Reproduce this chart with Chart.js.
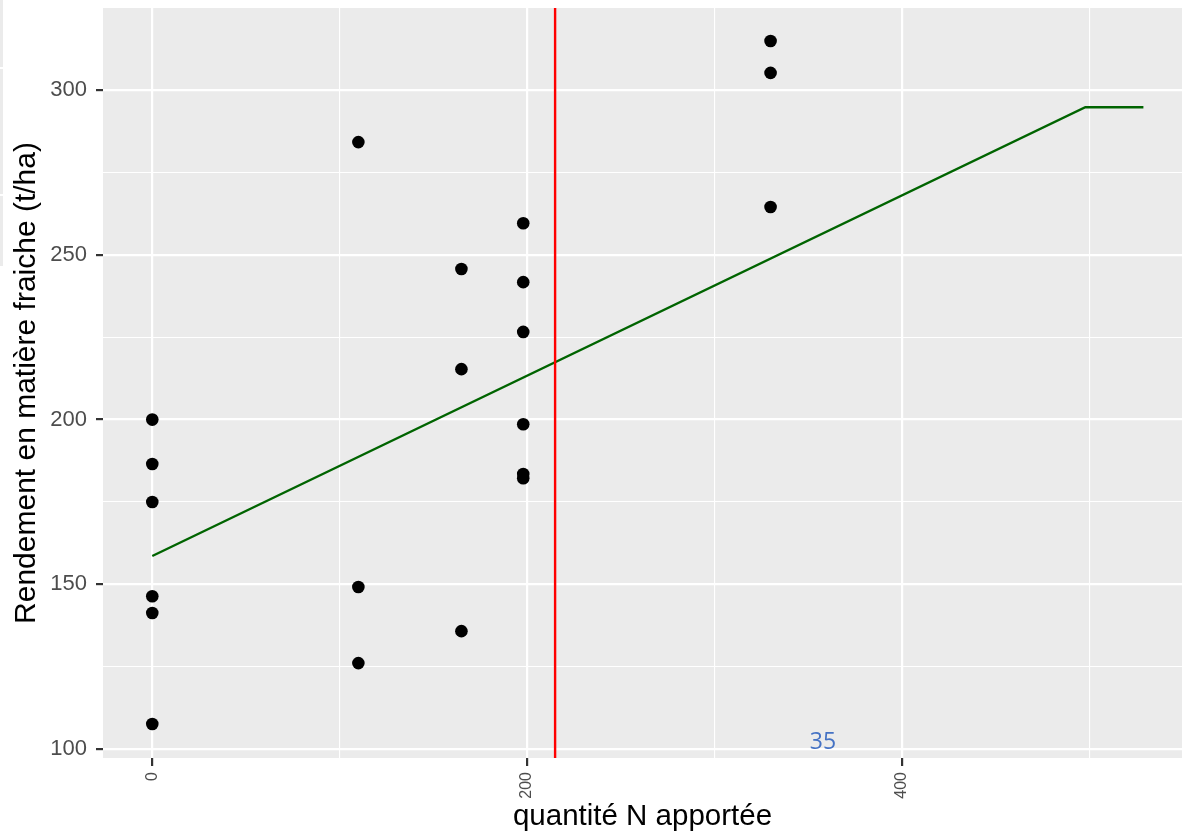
<!DOCTYPE html>
<html>
<head>
<meta charset="utf-8">
<script src="https://cdn.jsdelivr.net/npm/chart.js@4.4.1/dist/chart.umd.min.js"></script>
<style>
  html, body { margin: 0; padding: 0; background: #ffffff; }
  canvas { display: block; }
</style>
</head>
<body>
<canvas id="c" width="1196" height="837"></canvas>
<script>
// Nitrogen rate (kg N/ha) and fresh-matter yield (t/ha) for each plot
const doseN = [0, 0, 0, 0, 0, 0,
               110, 110, 110,
               165, 165, 165,
               198, 198, 198, 198, 198, 198,
               330, 330, 330];
const rendement = [200.0, 186.5, 175.0, 146.4, 141.3, 107.6,
                   284.2, 149.2, 126.1,
                   245.7, 215.3, 135.8,
                   259.6, 241.7, 226.6, 198.6, 183.5, 182.2,
                   314.9, 305.2, 264.5];

// Linear-plateau response curve
const modeleX = [0, 498, 529];
const modeleY = [158.6, 294.8, 294.8];

// Optimal dose marker
const seuilN = 215;

// Axis ticks (all grid lines) and labelled ticks
const xTicks = [0, 100, 200, 300, 400, 500];
const xLabels = [0, 200, 400];
const yTicks = [100, 125, 150, 175, 200, 225, 250, 275, 300];
const yLabels = [100, 150, 200, 250, 300];

const xRange = [-26.3, 549.6];
const yRange = [97.3, 324.9];

const noteTexte = '35';
const noteX = 358;
const noteY = 102;

const PANEL = '#EBEBEB';

const panelPlugin = {
  id: 'panel',
  beforeDraw(chart) {
    const { ctx, chartArea: a, width, height } = chart;
    ctx.save();
    ctx.fillStyle = '#ffffff';
    ctx.fillRect(0, 0, width, height);
    // thin strip on the far left edge
    ctx.fillStyle = PANEL;
    ctx.fillRect(0, 0, 3, 266);
    ctx.fillStyle = '#ffffff';
    ctx.fillRect(0, 67, 3, 2);
    ctx.fillRect(0, 194, 3, 2);
    // plotting panel
    ctx.fillStyle = PANEL;
    ctx.fillRect(a.left, a.top, a.right - a.left, a.bottom - a.top);
    ctx.restore();
  },
  afterDraw(chart) {
    const { ctx, scales } = chart;
    ctx.save();
    ctx.fillStyle = '#4472C4';
    ctx.font = '23px "Open Sans", sans-serif';
    ctx.textAlign = 'center';
    ctx.textBaseline = 'middle';
    ctx.fillText(noteTexte, scales.x.getPixelForValue(noteX), scales.y.getPixelForValue(noteY));
    ctx.restore();
  }
};

const points = doseN.map((x, i) => ({ x, y: rendement[i] }));
const courbe = modeleX.map((x, i) => ({ x, y: modeleY[i] }));
const seuil = [{ x: seuilN, y: yRange[0] }, { x: seuilN, y: yRange[1] }];

new Chart(document.getElementById('c'), {
  type: 'scatter',
  data: {
    datasets: [
      {
        type: 'line',
        data: seuil,
        borderColor: '#FF0000',
        borderWidth: 2.4,
        pointRadius: 0,
        fill: false
      },
      {
        type: 'line',
        data: courbe,
        borderColor: '#006400',
        borderWidth: 2.4,
        pointRadius: 0,
        tension: 0,
        fill: false
      },
      {
        data: points,
        backgroundColor: '#000000',
        borderColor: '#000000',
        borderWidth: 0,
        pointRadius: 6.3
      }
    ]
  },
  options: {
    responsive: false,
    animation: false,
    events: [],
    layout: { padding: { left: 0, top: 8, right: 14, bottom: 0 } },
    plugins: { legend: { display: false }, tooltip: { enabled: false } },
    scales: {
      x: {
        type: 'linear',
        min: xRange[0],
        max: xRange[1],
        afterBuildTicks(scale) { scale.ticks = xTicks.map(v => ({ value: v })); },
        afterFit(scale) { scale.height = 79; scale.paddingLeft = 0; scale.paddingRight = 0; },
        border: { display: false },
        grid: {
          color: '#FFFFFF',
          lineWidth: c => (xLabels.includes(c.tick && c.tick.value) ? 2.2 : 1.1),
          drawTicks: true,
          tickLength: 8,
          tickWidth: 2.2,
          tickColor: c => (xLabels.includes(c.tick && c.tick.value) ? '#333333' : 'rgba(0,0,0,0)')
        },
        ticks: {
          autoSkip: false,
          minRotation: 90,
          maxRotation: 90,
          padding: 6,
          color: '#4D4D4D',
          font: { family: '"Liberation Sans", Arial, sans-serif', size: 16 },
          callback: v => (xLabels.includes(v) ? String(v) : '')
        },
        title: {
          display: true,
          text: 'quantité N apportée',
          color: '#000000',
          font: { family: '"Liberation Sans", Arial, sans-serif', size: 29.5 },
          padding: { top: 0, bottom: 2 }
        }
      },
      y: {
        type: 'linear',
        min: yRange[0],
        max: yRange[1],
        afterBuildTicks(scale) { scale.ticks = yTicks.map(v => ({ value: v })); },
        afterFit(scale) { scale.width = 103; scale.paddingTop = 0; scale.paddingBottom = 0; },
        border: { display: false },
        grid: {
          color: '#FFFFFF',
          lineWidth: c => (yLabels.includes(c.tick && c.tick.value) ? 2.2 : 1.1),
          drawTicks: true,
          tickLength: 7,
          tickWidth: 2.2,
          tickColor: c => (yLabels.includes(c.tick && c.tick.value) ? '#333333' : 'rgba(0,0,0,0)')
        },
        ticks: {
          autoSkip: false,
          padding: 9,
          color: '#4D4D4D',
          font: { family: '"Liberation Sans", Arial, sans-serif', size: 22 },
          callback: v => (yLabels.includes(v) ? String(v) : '')
        },
        title: {
          display: true,
          text: 'Rendement en matière fraiche (t/ha)',
          color: '#000000',
          font: { family: '"Liberation Sans", Arial, sans-serif', size: 30 },
          padding: { top: 9, bottom: 0 }
        }
      }
    }
  },
  plugins: [panelPlugin]
});
</script>
</body>
</html>
